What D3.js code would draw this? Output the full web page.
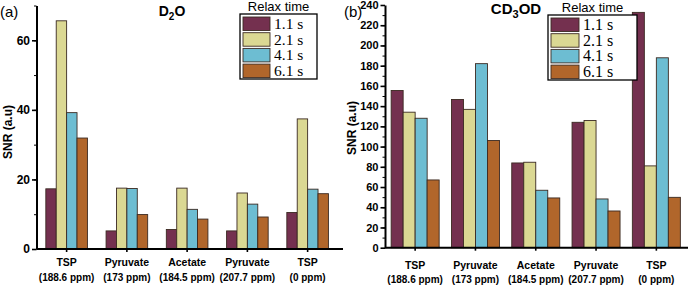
<!DOCTYPE html>
<html>
<head>
<meta charset="utf-8">
<script src="https://cdn.jsdelivr.net/npm/d3@7/dist/d3.min.js"></script>
<style>
  body { margin: 0; background: #fff; }
  svg text { font-family: "Liberation Sans", Arial, sans-serif; }
  .tick text { font-weight: bold; font-size: 11px; fill: #000; }
  .tick line, .domain { stroke: #000; }
</style>
</head>
<body>
<div id="chart"></div>
<script>
// categories and tick labels
const compounds = ["TSP", "Pyruvate", "Acetate", "Pyruvate", "TSP"];
const ppm_labels = ["(188.6 ppm)", "(173 ppm)", "(184.5 ppm)", "(207.7 ppm)", "(0 ppm)"];
const relax_times = ["1.1 s", "2.1 s", "4.1 s", "6.1 s"];
const relax_colors = ["#74304f", "#dbd893", "#6dbdd2", "#b1662b"];

// (a) D2O SNR, one array per relax time
const d2o_1_1 = [17.3, 5.2, 5.6, 5.2, 10.5];
const d2o_2_1 = [65.6, 17.5, 17.5, 16.1, 37.4];
const d2o_4_1 = [39.2, 17.4, 11.4, 12.9, 17.2];
const d2o_6_1 = [31.9, 9.9, 8.6, 9.2, 15.9];

// (b) CD3OD SNR
const cd3od_1_1 = [155.5, 146.6, 83.8, 124, 232.7];
const cd3od_2_1 = [134, 136.8, 84.5, 125.8, 80.9];
const cd3od_4_1 = [128, 182, 56.8, 48.2, 187.8];
const cd3od_6_1 = [67, 106, 49.2, 36.3, 49.8];

const svg = d3.select("#chart").append("svg")
    .attr("width", 689)
    .attr("height", 286);

function draw_panel(cfg) {
    const g = svg.append("g");

    var x0 = d3.scaleBand()
        .domain(d3.range(compounds.length))
        .range([cfg.left, cfg.left + cfg.step * compounds.length])
        .padding(0);

    var x1 = d3.scaleBand()
        .domain(d3.range(relax_times.length))
        .range([0, cfg.groupWidth]);

    var y = d3.scaleLinear()
        .domain([0, cfg.yMax])
        .range([cfg.bottom, cfg.top]);

    // bars
    cfg.series.forEach((vals, si) => {
        g.append("g").selectAll("rect")
            .data(vals)
            .join("rect")
            .attr("x", (d, i) => x0(i) + x0.bandwidth() / 2 - cfg.groupWidth / 2 + x1(si))
            .attr("y", d => y(d))
            .attr("width", x1.bandwidth())
            .attr("height", d => y(0) - y(d))
            .attr("fill", relax_colors[si])
            .attr("stroke", "#3b2a22")
            .attr("stroke-width", 0.9);
    });

    // y axis: minor ticks then major
    g.append("g")
        .attr("transform", `translate(${cfg.left},0)`)
        .call(d3.axisLeft(y).tickValues(d3.range(cfg.minorStep, cfg.yMax + 0.1, cfg.minorStep)).tickSize(2.5).tickFormat("").tickSizeOuter(0))
        .call(a => a.select(".domain").remove());
    g.append("g")
        .attr("transform", `translate(${cfg.left},0)`)
        .call(d3.axisLeft(y).tickValues(d3.range(0, cfg.yMax + 0.1, cfg.majorStep)).tickSize(4.5).tickPadding(2).tickSizeOuter(0))
        .call(a => a.select(".domain").attr("stroke-width", 2))
        .call(a => a.selectAll(".tick line").attr("stroke-width", 1.6))
        .call(a => a.selectAll(".tick text").style("font-size", cfg.tickFont + "px"));

    // x axis
    const xa = g.append("g")
        .attr("transform", `translate(0,${cfg.bottom})`)
        .call(d3.axisBottom(x0).tickSize(3).tickSizeOuter(0).tickFormat(""));
    xa.select(".domain").remove();
    xa.selectAll(".tick line").attr("stroke-width", 1.6);
    xa.append("line")
        .attr("x1", cfg.left).attr("x2", cfg.axisEnd)
        .attr("stroke", "#000").attr("stroke-width", 2);

    compounds.forEach((c, i) => {
        const cx = x0(i) + x0.bandwidth() / 2;
        g.append("text").attr("x", cx).attr("y", cfg.labelY1)
            .attr("text-anchor", "middle").style("font-weight", "bold").style("font-size", "10.5px")
            .text(c);
        g.append("text").attr("x", cx).attr("y", cfg.labelY2)
            .attr("text-anchor", "middle").style("font-weight", "bold").style("font-size", "10px")
            .text(ppm_labels[i]);
    });

    // y label
    g.append("text")
        .attr("transform", `translate(${cfg.yLabelX},${cfg.yLabelY}) rotate(-90)`)
        .attr("text-anchor", "middle")
        .style("font-weight", "bold").style("font-size", "12px")
        .text("SNR (a.u)");

    // panel letter
    g.append("text").attr("x", cfg.letterX).attr("y", 17)
        .style("font-size", "15px").text(cfg.letter);

    // title with subscript
    const t = g.append("text").attr("x", cfg.titleX).attr("y", cfg.titleY)
        .attr("text-anchor", "middle").style("font-weight", "bold").style("font-size", cfg.titleFont + "px");
    cfg.title.forEach(p => {
        if (p.sub) t.append("tspan").attr("dy", 4).style("font-size", (cfg.titleFont - 4) + "px").text(p.t);
        else t.append("tspan").attr("dy", p.after ? -4 : 0).text(p.t);
    });

    // legend
    const lg = g.append("g").attr("transform", `translate(${cfg.legX},${cfg.legY})`);
    lg.append("text").attr("x", cfg.legW / 2).attr("y", -3)
        .attr("text-anchor", "middle").style("font-size", "13px").text("Relax time");
    lg.append("rect").attr("width", cfg.legW).attr("height", 65)
        .attr("fill", "#fff").attr("stroke", "#000").attr("stroke-width", 1.3);
    relax_times.forEach((r, i) => {
        lg.append("rect").attr("x", 3).attr("y", 3 + i * 15.7)
            .attr("width", cfg.swW).attr("height", 13.5)
            .attr("fill", relax_colors[i]).attr("stroke", "#3b2a22").attr("stroke-width", 0.9);
        lg.append("text").attr("x", cfg.swW + 7).attr("y", 15 + i * 15.7)
            .style("font-family", "'Liberation Serif', 'Times New Roman', serif")
            .style("font-size", cfg.legFont + "px").text(r);
    });
}

draw_panel({
    series: [d2o_1_1, d2o_2_1, d2o_4_1, d2o_6_1],
    left: 36.5, step: 60.25, groupWidth: 41.6, axisEnd: 343,
    top: 5.5, bottom: 249, yMax: 70, majorStep: 20, minorStep: 10, tickFont: 12,
    labelY1: 266, labelY2: 281, yLabelX: 12, yLabelY: 132,
    letter: "(a)", letterX: 0,
    title: [{t: "D"}, {t: "2", sub: true}, {t: "O", after: true}], titleX: 172, titleY: 16, titleFont: 14,
    legX: 240, legY: 14, legW: 77, swW: 27, legFont: 15.5
});

draw_panel({
    series: [cd3od_1_1, cd3od_2_1, cd3od_4_1, cd3od_6_1],
    left: 385, step: 60.3, groupWidth: 48, axisEnd: 688,
    top: 5, bottom: 247.7, yMax: 240, majorStep: 20, minorStep: 10, tickFont: 11,
    labelY1: 269, labelY2: 283, yLabelX: 356, yLabelY: 128,
    letter: "(b)", letterX: 344,
    title: [{t: "CD"}, {t: "3", sub: true}, {t: "OD", after: true}], titleX: 516, titleY: 14, titleFont: 15,
    legX: 548, legY: 15, legW: 89, swW: 28, legFont: 16
});
</script>
</body>
</html>
